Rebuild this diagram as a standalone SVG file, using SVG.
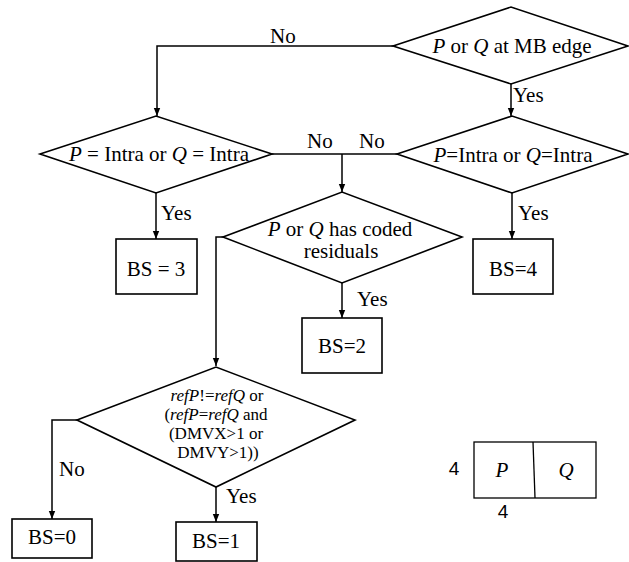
<svg xmlns="http://www.w3.org/2000/svg" width="629" height="562" viewBox="0 0 629 562" font-family="'Liberation Serif', 'Times New Roman', serif" font-size="21">
<defs>
<marker id="ah" viewBox="0 0 10 10" refX="10" refY="5" markerWidth="8" markerHeight="8" markerUnits="userSpaceOnUse" orient="auto">
<path d="M0,1 L10,5 L0,9 z" fill="#000"/>
</marker>
<style>
.s{fill:#fff;stroke:#000;stroke-width:1.6}
.c{fill:none;stroke:#000;stroke-width:1.5}
.a{marker-end:url(#ah)}
.t{font-family:'Liberation Serif','Times New Roman',serif;font-size:21px;fill:#000}
.m{text-anchor:middle}
.i{font-style:italic}
.sm{font-size:17px}
.sans{font-family:'Liberation Sans',Arial,sans-serif;font-size:19px}
</style>
</defs>
<rect width="629" height="562" fill="#fff"/>
<g id="connectors">
<path class="c a" d="M393,46 H157 V116"/>
<path class="c a" d="M511,84 V116"/>
<path class="c a" d="M156,193 V239"/>
<path class="c a" d="M512,193 V239"/>
<path class="c" d="M272,154 H397"/>
<path class="c a" d="M342,154 V192"/>
<path class="c a" d="M342,283 V318"/>
<path class="c a" d="M223,237 H216 V366"/>
<path class="c a" d="M77,420 H52 V519"/>
<path class="c a" d="M216,487 V522"/>
<text class="t" x="270" y="43">No</text>
<text class="t" x="513" y="102">Yes</text>
<text class="t" x="307" y="148">No</text>
<text class="t" x="359" y="148">No</text>
<text class="t" x="161" y="220">Yes</text>
<text class="t" x="518" y="220">Yes</text>
<text class="t" x="357" y="306">Yes</text>
<text class="t" x="59" y="476">No</text>
<text class="t" x="226" y="503">Yes</text>
</g>
<g id="d1">
<polygon class="s" points="393,46 511,7 628,46 511,84"/>
<text class="t m" x="512" y="53"><tspan class="i">P</tspan> or <tspan class="i">Q</tspan> at MB edge</text>
</g>
<g id="d2">
<polygon class="s" points="40,154 156,116 272,154 156,193"/>
<text class="t m" x="159" y="161"><tspan class="i">P</tspan> = Intra or <tspan class="i">Q</tspan> = Intra</text>
</g>
<g id="d3">
<polygon class="s" points="397,154 512,116 628,154 512,193"/>
<text class="t m" x="513" y="162"><tspan class="i">P</tspan>=Intra or <tspan class="i">Q</tspan>=Intra</text>
</g>
<g id="d4">
<polygon class="s" points="223,237 342,192 462,237 342,283"/>
<text class="t m" x="340" y="236"><tspan class="i">P</tspan> or <tspan class="i">Q</tspan> has coded<tspan x="341" y="258">residuals</tspan></text>
</g>
<g id="d5">
<polygon class="s" points="77,420 216,367 355,420 216,487"/>
<text class="t m sm" x="217" y="401"><tspan class="i">refP</tspan>!=<tspan class="i">refQ</tspan> or<tspan x="216" y="420">(</tspan><tspan class="i">refP</tspan>=<tspan class="i">refQ</tspan> and<tspan x="216" y="439">(DMVX&gt;1 or</tspan><tspan x="218" y="458">DMVY&gt;1))</tspan></text>
</g>
<g id="bs3">
<rect class="s" x="116" y="239" width="81" height="55"/>
<text class="t m" x="156" y="276">BS = 3</text>
</g>
<g id="bs4">
<rect class="s" x="473" y="239" width="80" height="55"/>
<text class="t m" x="513" y="276">BS=4</text>
</g>
<g id="bs2">
<rect class="s" x="302" y="318" width="80" height="55"/>
<text class="t m" x="342" y="353">BS=2</text>
</g>
<g id="bs0">
<rect class="s" x="12" y="519" width="80" height="39"/>
<text class="t m" x="52" y="544">BS=0</text>
</g>
<g id="bs1">
<rect class="s" x="176" y="522" width="81" height="39"/>
<text class="t m" x="216" y="548">BS=1</text>
</g>
<g id="pq">
<rect x="474" y="442" width="122" height="56" fill="none" stroke="#000" stroke-width="1.3"/>
<path d="M533,442 L535,498" fill="none" stroke="#000" stroke-width="1.3"/>
<text class="t m i" x="502" y="477">P</text>
<text class="t m i" x="566" y="477">Q</text>
<text class="t m sans" x="454" y="475">4</text>
<text class="t m sans" x="503" y="518">4</text>
</g>
</svg>
